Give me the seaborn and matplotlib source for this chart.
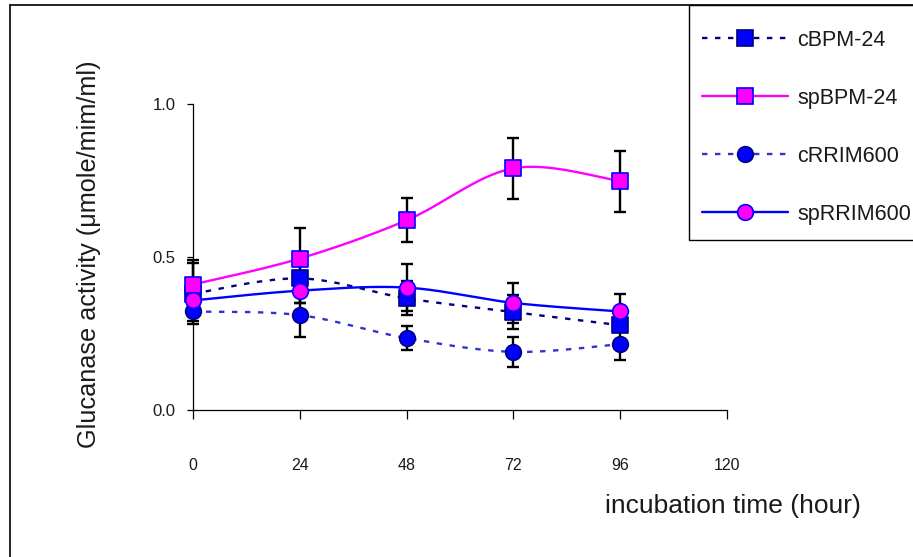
import numpy as np
import pandas as pd
import matplotlib
matplotlib.use("Agg")
import matplotlib.pyplot as plt
import seaborn as sns
from matplotlib import font_manager
from matplotlib.lines import Line2D
from matplotlib.patches import Rectangle

# ---------------- data ----------------
hours = [0, 24, 48, 72, 96]
x_ticks = [0, 24, 48, 72, 96, 120]
x_tick_labels = ["0", "24", "48", "72", "96", "120"]
y_ticks = [0.0, 0.5, 1.0]
y_tick_labels = ["0.0", "0.5", "1.0"]
series_names = ["cBPM-24", "spBPM-24", "cRRIM600", "spRRIM600"]

cbpm = [0.38, 0.43, 0.365, 0.32, 0.277]
cbpm_err = [0.10, 0.08, 0.055, 0.055, 0.02]
spbpm = [0.41, 0.495, 0.62, 0.79, 0.748]
spbpm_err = [0.08, 0.10, 0.072, 0.10, 0.10]
crrim = [0.322, 0.31, 0.235, 0.19, 0.215]
crrim_err = [0.03, 0.07, 0.04, 0.05, 0.05]
sprrim = [0.358, 0.39, 0.40, 0.35, 0.322]
sprrim_err = [0.05, 0.04, 0.076, 0.065, 0.058]

x_label = "incubation time (hour)"
y_label = "Glucanase activity (\u03bcmole/mim/ml)"

# ---------------- style ----------------
sns.set_style("ticks")
names = {f.name for f in font_manager.fontManager.ttflist}
main_font = "Liberation Sans Narrow" if "Liberation Sans Narrow" in names else "Liberation Sans"
plt.rcParams["font.family"] = [main_font, "DejaVu Sans"]
txt_color = "#1a1a1a"

W, H = 913, 557
fig = plt.figure(figsize=(W / 100, H / 100), dpi=100)
fig.patch.set_facecolor("white")

ax_l, ax_r, ax_b, ax_t = 193, 727, 410, 104
ax = fig.add_axes([ax_l / W, 1 - ax_b / H, (ax_r - ax_l) / W, (ax_b - ax_t) / H])
ax.set_facecolor("white")


def excel_smooth(xs, ys, n=40):
    """Excel-style smoothed line (cubic Bezier with 1/6 tangents)."""
    P = np.column_stack([xs, ys]).astype(float)
    m = len(P)
    out = []
    for i in range(m - 1):
        p0 = P[i - 1] if i > 0 else P[i]
        p1, p2 = P[i], P[i + 1]
        p3 = P[i + 2] if i + 2 < m else P[i + 1]
        c1 = p1 + (p2 - p0) / 6.0
        c2 = p2 - (p3 - p1) / 6.0
        t = np.linspace(0, 1, n)[:, None]
        seg = ((1 - t) ** 3) * p1 + 3 * ((1 - t) ** 2) * t * c1 + 3 * (1 - t) * t ** 2 * c2 + t ** 3 * p2
        out.append(seg if i == 0 else seg[1:])
    seg = np.vstack(out)
    return seg[:, 0], seg[:, 1]


specs = [
    # name, values, errors, marker, face, edge, line color, linestyle
    ("cRRIM600", crrim, crrim_err, "o", "#0000ff", "#000080", "#3333cc", (0, (2.3, 3.2))),
    ("cBPM-24", cbpm, cbpm_err, "s", "#0000ff", "#000080", "#000080", (0, (2.3, 3.2))),
    ("spBPM-24", spbpm, spbpm_err, "s", "#ff00ff", "#0000ff", "#ff00ff", "-"),
    ("spRRIM600", sprrim, sprrim_err, "o", "#ff00ff", "#0000ff", "#0000ff", "-"),
]

lw = 1.7
ms = 11.3
for k, (name, vals, errs, mk, fc, ec, lc, ls) in enumerate(specs):
    sx, sy = excel_smooth(hours, vals)
    sns.lineplot(x=sx, y=sy, sort=False, estimator=None, ax=ax, color=lc,
                 linestyle=ls, linewidth=lw, zorder=2, clip_on=False)

for k, (name, vals, errs, mk, fc, ec, lc, ls) in enumerate(specs):
    ax.errorbar(hours, vals, yerr=errs, fmt="none", ecolor="black",
                elinewidth=1.7, capsize=4.4, capthick=1.7, zorder=3, clip_on=False)

for k, (name, vals, errs, mk, fc, ec, lc, ls) in enumerate(specs):
    df = pd.DataFrame({"hour": hours, "value": vals})
    sns.scatterplot(data=df, x="hour", y="value", marker=mk, s=ms ** 2, color=fc,
                    edgecolor=ec, linewidth=1.2, ax=ax, zorder=5 + k, clip_on=False,
                    legend=False)

ax.set_xlim(0, 120)
ax.set_ylim(0, 1.0)
ax.set_xticks(x_ticks)
ax.set_xticklabels(x_tick_labels)
ax.set_yticks(y_ticks)
ax.set_yticklabels(y_tick_labels)
ax.set_xlabel("")
ax.set_ylabel("")
for s in ["top", "right"]:
    ax.spines[s].set_visible(False)
for s in ["left", "bottom"]:
    ax.spines[s].set_color("black")
    ax.spines[s].set_linewidth(0.9)
ax.tick_params(axis="x", direction="out", length=6.5, width=0.9, pad=28,
               labelsize=11.5, labelcolor=txt_color, color="black")
ax.tick_params(axis="y", direction="out", length=4.5, width=0.9, pad=8,
               labelsize=12, labelcolor=txt_color, color="black")

# axis titles placed like the original
fig.text(733 / W, 1 - 506 / H, x_label, ha="center", va="center",
         fontsize=19, color=txt_color)
fig.text(89 / W, 1 - 254 / H, y_label, ha="center", va="center", rotation=90,
         fontsize=18.2, color=txt_color)

# legend box (drawn as its own frame, extends past the right edge like the original)
fig.add_artist(Rectangle((689 / W, 1 - 240 / H), 0.5, (240 - 5) / H,
                         transform=fig.transFigure, facecolor="white",
                         edgecolor="black", linewidth=1.0, zorder=10))
handles = []
spec_by_name = {s[0]: s for s in specs}
for nm in series_names:
    _, _, _, mk, fc, ec, lc, ls = spec_by_name[nm]
    handles.append(Line2D([0], [0], color=lc, linestyle=ls, linewidth=lw, marker=mk,
                          markersize=ms, markerfacecolor=fc, markeredgecolor=ec,
                          markeredgewidth=1.2))
leg_fs = 15.5
leg = fig.legend(handles, series_names, loc="upper left",
                 bbox_to_anchor=(689 / W, 1 - 17 / H),
                 borderaxespad=0, frameon=False, fontsize=leg_fs,
                 handlelength=4.0, handletextpad=0.42, labelspacing=1.72,
                 borderpad=0.6, labelcolor=txt_color)
leg.set_zorder(11)

# outer chart-area frame (partially visible in the original crop)
fig.add_artist(Line2D([9.5 / W, 9.5 / W], [0, 1 - 5 / H], transform=fig.transFigure,
                      color="black", linewidth=1.2))
fig.add_artist(Line2D([9.5 / W, 1], [1 - 5 / H, 1 - 5 / H], transform=fig.transFigure,
                      color="black", linewidth=1.2))

fig.savefig("out.png", dpi=100, facecolor="white")
